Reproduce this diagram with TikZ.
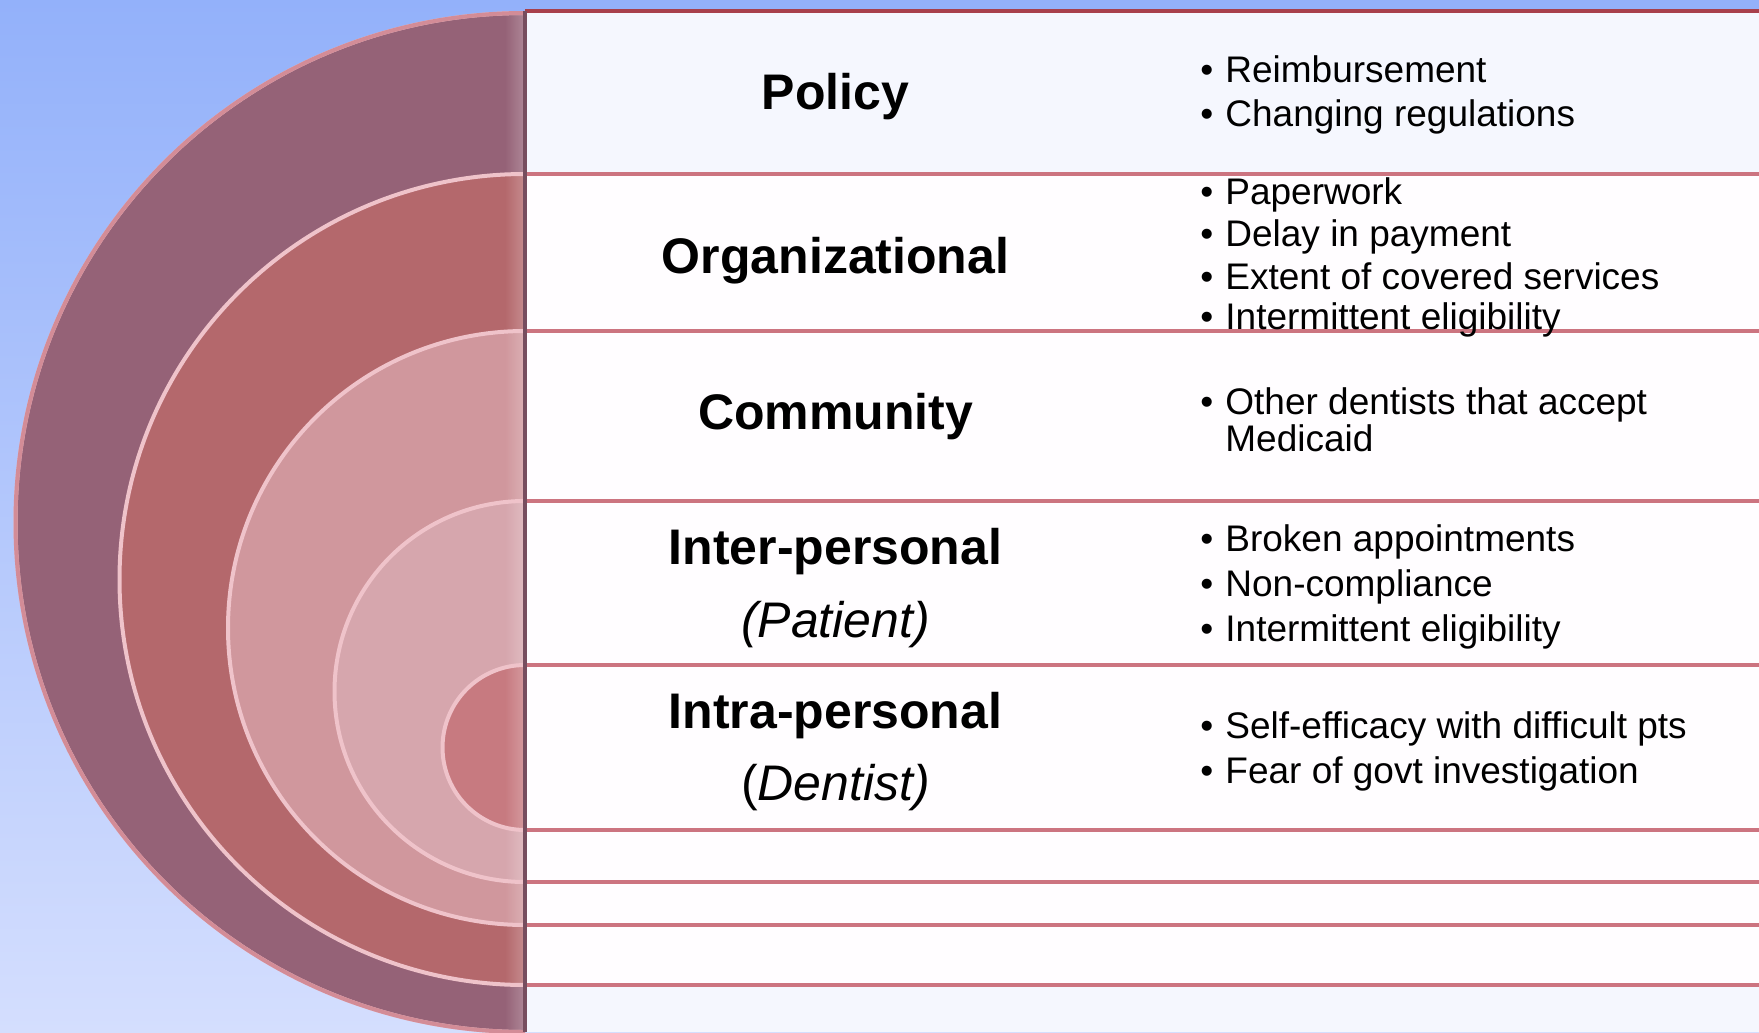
\documentclass[tikz,border=0pt]{standalone}
\usepackage{fontspec}
\setmainfont{Liberation Sans}
\definecolor{bgtop}{HTML}{93B1FA}
\definecolor{bgbot}{HTML}{D4DEFE}
\definecolor{cA}{HTML}{956277}
\definecolor{cB}{HTML}{B4686C}
\definecolor{cC}{HTML}{D0979D}
\definecolor{cD}{HTML}{D6A6AD}
\definecolor{cE}{HTML}{C77A80}
\definecolor{rowline}{HTML}{CC7480}
\definecolor{topline}{HTML}{A8404C}
\definecolor{rowblue}{HTML}{F5F7FE}
\definecolor{rowwhite}{HTML}{FFFDFF}
\definecolor{edgecol}{HTML}{EFC3CA}
\definecolor{outeredge}{HTML}{D38C97}
\newcommand\bul{\makebox[12.5pt][l]{•}}
\begin{document}
\begin{tikzpicture}[x=0.5pt,y=0.5pt,
  lab/.style={font=\fontsize{25}{30}\selectfont\bfseries, anchor=base, inner sep=0pt},
  sublab/.style={font=\fontsize{25}{30}\selectfont, anchor=base, inner sep=0pt},
  item/.style={font=\fontsize{18.5}{22}\selectfont, anchor=base west, inner sep=0pt},
  halfdisk/.style={draw=edgecol, line width=2},
  rowrule/.style={draw=rowline, line width=2}]
\useasboundingbox (0,0) rectangle (1759,-1032);
\shade[top color=bgtop, bottom color=bgbot] (0,0) rectangle (1759,-1032);

% nested half disks
\foreach \top/\r/\col in {13/509.5/cA, 174/405.5/cB, 331/297/cC, 501/190.5/cD, 665/82.5/cE}{
  \begin{scope}
    \clip (525,-\top) arc[start angle=90,end angle=270,radius=\r] -- cycle;
    \fill[\col] (0,0) rectangle (530,-1032);
    \shade[left color=\col, right color=\col!75!white] (505,-\top) rectangle (526,-1032);
  \end{scope}
  \draw[halfdisk] (525,-\top) arc[start angle=90,end angle=270,radius=\r];
}
\draw[draw=outeredge, line width=2] (525,-13) arc[start angle=90,end angle=270,radius=509.5];

% table rows
\fill[rowblue] (525,-11) rectangle (1759,-174);
\fill[rowwhite] (525,-174) rectangle (1759,-985);
\fill[rowblue] (525,-985) rectangle (1759,-1032);
\foreach \y in {174,331,501,665,830,882,925,985}{
  \draw[rowrule] (525,-\y) -- (1759,-\y);
}
\draw[topline, line width=2] (525,-11) -- (1759,-11);
\draw[draw=cA!80!black, line width=2] (525,-11) -- (525,-1032);

% left column labels
\node[lab] (policy) at (835.5,-110) {Policy};
\node[lab] (org) at (835.5,-273) {Organizational};
\node[lab] (comm) at (835.5,-429) {Community};
\node[lab] (inter) at (835.5,-564) {Inter-personal};
\node[sublab] (patient) at (835.5,-637) {\itshape (Patient)};
\node[lab] (intra) at (835.5,-728) {Intra-personal};
\node[sublab] (dentist) at (835.5,-800) {(\itshape Dentist)};

% right column items
\node[item] (p1) at (1200,-83) {\bul Reimbursement};
\node[item] (p2) at (1200,-127) {\bul Changing regulations};
\node[item] (o1) at (1200,-205) {\bul Paperwork};
\node[item] (o2) at (1200,-246) {\bul Delay in payment};
\node[item] (o3) at (1200,-289) {\bul Extent of covered services};
\node[item] (o4) at (1200,-329) {\bul Intermittent eligibility};
\node[item] (c1) at (1200,-414) {\bul Other dentists that accept};
\node[item] (c2) at (1225,-451) {Medicaid};
\node[item] (i1) at (1200,-551) {\bul Broken appointments};
\node[item] (i2) at (1200,-596) {\bul Non-compliance};
\node[item] (i3) at (1200,-641) {\bul Intermittent eligibility};
\node[item] (d1) at (1200,-738) {\bul Self-efficacy with difficult pts};
\node[item] (d2) at (1200,-783) {\bul Fear of govt investigation};
\end{tikzpicture}
\end{document}
